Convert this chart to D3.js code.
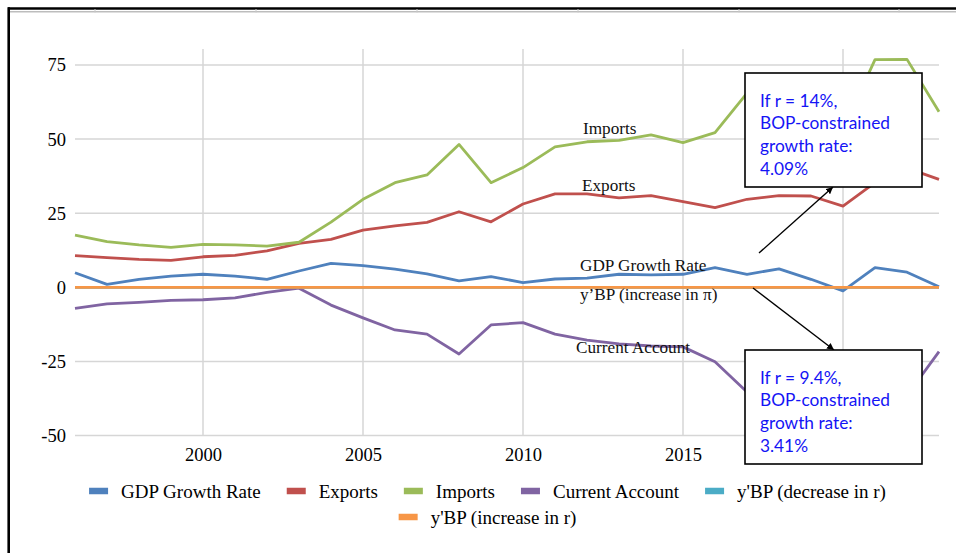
<!DOCTYPE html>
<html>
<head>
<meta charset="utf-8">
<script src="https://cdn.jsdelivr.net/npm/d3@7/dist/d3.min.js"></script>
<style>
  html, body { margin: 0; padding: 0; background: #fff; }
  svg { display: block; }
</style>
</head>
<body>
<svg id="chart" width="956" height="553"></svg>
<script>
// ---- data ----
const years = [1996,1997,1998,1999,2000,2001,2002,2003,2004,2005,2006,2007,2008,2009,
               2010,2011,2012,2013,2014,2015,2016,2017,2018,2019,2020,2021,2022,2023];
const gdpGrowth = [4.9,1.0,2.7,3.8,4.4,3.8,2.7,5.5,8.1,7.3,6.1,4.5,2.2,3.6,
                   1.6,2.8,3.1,4.4,4.2,4.4,6.6,4.4,6.2,2.7,-1.2,6.6,5.1,0.2];
const exportsPct = [10.7,10.0,9.4,9.1,10.3,10.8,12.3,14.8,16.2,19.3,20.7,21.9,25.5,22.1,
                    28.1,31.5,31.5,30.2,30.9,28.9,26.9,29.7,30.9,30.8,27.4,35.3,40.2,36.4];
const importsPct = [17.6,15.4,14.3,13.5,14.5,14.3,13.9,15.2,22.0,29.7,35.3,37.9,48.2,35.3,
                    40.4,47.4,49.1,49.6,51.4,48.8,52.2,65.5,68.5,66.0,53.3,76.8,76.9,59.2];
const currentAccount = [-7.1,-5.6,-5.1,-4.4,-4.2,-3.6,-1.7,-0.3,-6.0,-10.3,-14.4,-15.8,-22.5,-12.7,
                        -11.9,-15.8,-17.8,-19.1,-19.8,-20.1,-25.1,-35.3,-37.5,-36.0,-30.5,-34.0,-36.5,-21.7];
const ybpDecrease = [0,0,0,0,0,0,0,0,0,0,0,0,0,0,0,0,0,0,0,0,0,0,0,0,0,0,0,0];
const ybpIncrease = [0,0,0,0,0,0,0,0,0,0,0,0,0,0,0,0,0,0,0,0,0,0,0,0,0,0,0,0];

const seriesNames = ["GDP Growth Rate","Exports","Imports","Current Account",
                     "y'BP (decrease in r)","y'BP (increase in r)"];
const seriesColors = ["#4F81BD","#C0504D","#9BBB59","#8064A2","#4BACC6","#F79646"];
const seriesValues = [gdpGrowth, exportsPct, importsPct, currentAccount, ybpDecrease, ybpIncrease];

const yTicks = [75, 50, 25, 0, -25, -50];
const xTicks = [2000, 2005, 2010, 2015, 2020];

// in-plot series labels
const inlineLabels = [
  {text: "Imports", x: 583, y: 134},
  {text: "Exports", x: 582, y: 190.5},
  {text: "GDP Growth Rate", x: 580, y: 271},
  {text: "y\u2019BP (increase in \u03c0)", x: 580, y: 300},
  {text: "Current Account", x: 576, y: 353}
];

// callout boxes with arrows
const callouts = [
  {lines: ["If r = 14%,", "BOP-constrained", "growth rate:", "4.09%"],
   box: [745, 73, 177, 114], arrow: [759, 253, 833, 187]},
  {lines: ["If r = 9.4%,", "BOP-constrained", "growth rate:", "3.41%"],
   box: [745, 350, 177, 114], arrow: [753, 288, 834, 350]}
];

// ---- drawing ----
const svg = d3.select("#chart");
const serif = "'Liberation Serif', 'Times New Roman', serif";

const x = d3.scaleLinear().domain([1996, 2023]).range([75, 939]);
const y = d3.scaleLinear().domain([-50, 75]).range([435.5, 65]);
const plotTop = 49;

// page frame
svg.append("line").attr("x1", 8).attr("x2", 956).attr("y1", 8.5).attr("y2", 8.5)
  .attr("stroke", "#000").attr("stroke-width", 2.5);
svg.append("line").attr("x1", 9).attr("x2", 956).attr("y1", 11.8).attr("y2", 11.8)
  .attr("stroke", "#bdbdbd").attr("stroke-width", 1.5);
[95, 256, 417, 578, 739, 899].forEach(px => {
  svg.append("line").attr("x1", px).attr("x2", px).attr("y1", 9).attr("y2", 12.5)
    .attr("stroke", "#c8c8c8").attr("stroke-width", 1);
});
svg.append("line").attr("x1", 8.7).attr("x2", 8.7).attr("y1", 7.3).attr("y2", 553)
  .attr("stroke", "#000").attr("stroke-width", 2.6);

// gridlines
const grid = svg.append("g").attr("stroke", "#d6d6d6").attr("stroke-width", 1.5);
yTicks.forEach(v => {
  grid.append("line").attr("x1", x(1996)).attr("x2", x(2023))
    .attr("y1", y(v)).attr("y2", y(v));
});
xTicks.forEach(t => {
  grid.append("line").attr("x1", x(t)).attr("x2", x(t))
    .attr("y1", plotTop).attr("y2", y(-50));
});

// axes (labels only); plain hyphen for negatives
const plain = d => String(d);
const yAxis = svg.append("g").attr("transform", "translate(66,0)")
  .call(d3.axisLeft(y).tickValues(yTicks).tickSize(0).tickPadding(0).tickFormat(plain));
const xAxis = svg.append("g").attr("transform", `translate(0,${y(-50)})`)
  .call(d3.axisBottom(x).tickValues(xTicks).tickSize(0).tickPadding(12).tickFormat(plain));
[yAxis, xAxis].forEach(a => {
  a.select(".domain").remove();
  a.attr("font-family", serif).attr("font-size", 18.5);
  a.selectAll("text").attr("font-family", serif).attr("font-size", 18.5).attr("fill", "#000");
});

// series lines
const line = d3.line().x((d, i) => x(years[i])).y(d => y(d));
seriesValues.forEach((vals, k) => {
  svg.append("path").datum(vals)
    .attr("d", line)
    .attr("fill", "none")
    .attr("stroke", seriesColors[k])
    .attr("stroke-width", 2.8)
    .attr("stroke-linejoin", "round");
});

// in-plot labels
svg.append("g").selectAll("text").data(inlineLabels).join("text")
  .attr("x", d => d.x).attr("y", d => d.y)
  .attr("font-family", serif).attr("font-size", 17.2).attr("fill", "#111")
  .text(d => d.text);

// arrowhead
svg.append("defs").append("marker")
  .attr("id", "arrowhead").attr("viewBox", "0 0 10 10")
  .attr("refX", 10).attr("refY", 5)
  .attr("markerWidth", 7).attr("markerHeight", 7)
  .attr("markerUnits", "userSpaceOnUse")
  .attr("orient", "auto")
  .append("path").attr("d", "M0,0 L10,5 L0,10 z").attr("fill", "#000");

// callouts
callouts.forEach(c => {
  const [ax1, ay1, ax2, ay2] = c.arrow;
  svg.append("line")
    .attr("x1", ax1).attr("y1", ay1).attr("x2", ax2).attr("y2", ay2)
    .attr("stroke", "#000").attr("stroke-width", 1.4)
    .attr("marker-end", "url(#arrowhead)");
  const [bx, by, bw, bh] = c.box;
  svg.append("rect").attr("x", bx).attr("y", by).attr("width", bw).attr("height", bh)
    .attr("fill", "#fff").attr("stroke", "#000").attr("stroke-width", 1.6);
  svg.append("g").selectAll("text").data(c.lines).join("text")
    .attr("x", bx + 15)
    .attr("y", (d, i) => by + 33.5 + i * 22.8)
    .attr("font-family", "Lato, 'Open Sans', sans-serif")
    .attr("font-size", 17.3)
    .attr("fill", "#1414f5")
    .text(d => d);
});

// legend (centered rows, wrapping)
const legend = svg.append("g");
const legendCenter = 487.5, legendMaxW = 820;
const swW = 19, swH = 6.5, swGap = 13, itemGap = 26;
const items = seriesNames.map((name, i) => {
  const g = legend.append("g");
  g.append("rect").attr("width", swW).attr("height", swH).attr("y", -swH / 2 - 1)
    .attr("fill", seriesColors[i]);
  const t = g.append("text").attr("x", swW + swGap).attr("y", 5.5)
    .attr("font-family", serif).attr("font-size", 19).attr("fill", "#000").text(name);
  return {g, w: swW + swGap + t.node().getComputedTextLength()};
});
const rows = [[]];
let rowW = 0;
items.forEach(it => {
  const add = (rows[rows.length - 1].length ? itemGap : 0) + it.w;
  if (rowW + add > legendMaxW) { rows.push([it]); rowW = it.w; }
  else { rows[rows.length - 1].push(it); rowW += add; }
});
rows.forEach((row, r) => {
  const total = row.reduce((s, it, i) => s + it.w + (i ? itemGap : 0), 0);
  let cx = legendCenter - total / 2;
  row.forEach(it => {
    it.g.attr("transform", `translate(${cx},${492 + r * 26})`);
    cx += it.w + itemGap;
  });
});
</script>
</body>
</html>
